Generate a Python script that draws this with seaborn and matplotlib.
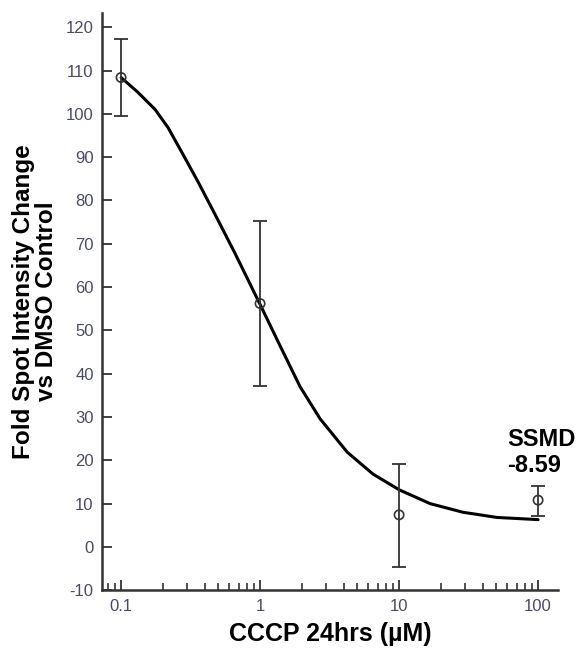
import matplotlib
matplotlib.use("Agg")
import matplotlib.pyplot as plt
import matplotlib.ticker as mticker
import numpy as np
import pandas as pd
import seaborn as sns

# Measured points
conc = [0.1, 1, 10, 100]
mean_val = [108.4, 56.2, 7.4, 10.8]
err_low = [99.4, 37.1, -4.6, 7.2]
err_high = [117.2, 75.3, 19.2, 14.1]

# Fitted curve
curve_x = [0.1, 0.132, 0.176, 0.218, 0.275, 0.358, 0.474, 0.66, 1.0, 1.39, 1.94,
           2.70, 4.23, 6.5, 10, 16.7, 28.8, 50.7, 100]
curve_y = [108.4, 105.0, 101.0, 96.8, 91.0, 84.3, 76.8, 67.8, 56.0, 46.5, 37.0,
           29.6, 21.9, 16.8, 13.2, 10.0, 8.0, 6.8, 6.3]

y_ticks = [-10, 0, 10, 20, 30, 40, 50, 60, 70, 80, 90, 100, 110, 120]
x_ticks = [0.1, 1, 10, 100]
x_tick_labels = ["0.1", "1", "10", "100"]

sns.set_style("ticks")
plt.rcParams["font.family"] = ["Liberation Sans", "DejaVu Sans"]
plt.rcParams["axes.unicode_minus"] = False

fig = plt.figure(figsize=(5.8, 6.5), dpi=100)
ax = fig.add_axes([0.176, 0.092, 0.786, 0.888])

curve_df = pd.DataFrame({"x": curve_x, "y": curve_y})
sns.lineplot(data=curve_df, x="x", y="y", ax=ax, color="black", linewidth=2.2,
             estimator=None, sort=True)

m = np.array(mean_val)
yerr = np.vstack([m - np.array(err_low), np.array(err_high) - m])
ax.errorbar(conc, mean_val, yerr=yerr, fmt="none", ecolor="#333333",
            elinewidth=1.3, capsize=5, capthick=1.3, zorder=3)
sns.scatterplot(x=conc, y=mean_val, ax=ax, marker="o", s=45,
                facecolor="none", edgecolor="#333333", linewidth=1.2, zorder=4)

ax.set_xscale("log")
ax.set_xlim(0.073, 139)
ax.set_ylim(-10, 123.3)
ax.set_yticks(y_ticks)
ax.set_xticks(x_ticks)
ax.set_xticklabels(x_tick_labels)
ax.xaxis.set_minor_locator(mticker.LogLocator(base=10, subs=np.arange(2, 10)))
ax.xaxis.set_minor_formatter(mticker.NullFormatter())

for s in ["top", "right"]:
    ax.spines[s].set_visible(False)
for s in ["left", "bottom"]:
    ax.spines[s].set_color("#333333")
    ax.spines[s].set_linewidth(1.8)

ax.tick_params(axis="both", which="major", direction="in", length=7, width=1.3,
               color="#333333", labelsize=12, labelcolor="#4a4a66", pad=6)
ax.tick_params(axis="x", which="minor", direction="in", length=5, width=1.2,
               color="#333333")

ax.set_xlabel("CCCP 24hrs (\u00b5M)", fontsize=18, fontweight="bold",
              labelpad=6, color="black")
ax.set_ylabel("Fold Spot Intensity Change\nvs DMSO Control", fontsize=17.5,
              fontweight="bold", labelpad=6, linespacing=1.0, color="black")

ax.text(60, 27.5, "SSMD\n-8.59", fontsize=17, fontweight="bold", ha="left",
        va="top", linespacing=1.15, color="black")

fig.savefig("out.png", dpi=100)
